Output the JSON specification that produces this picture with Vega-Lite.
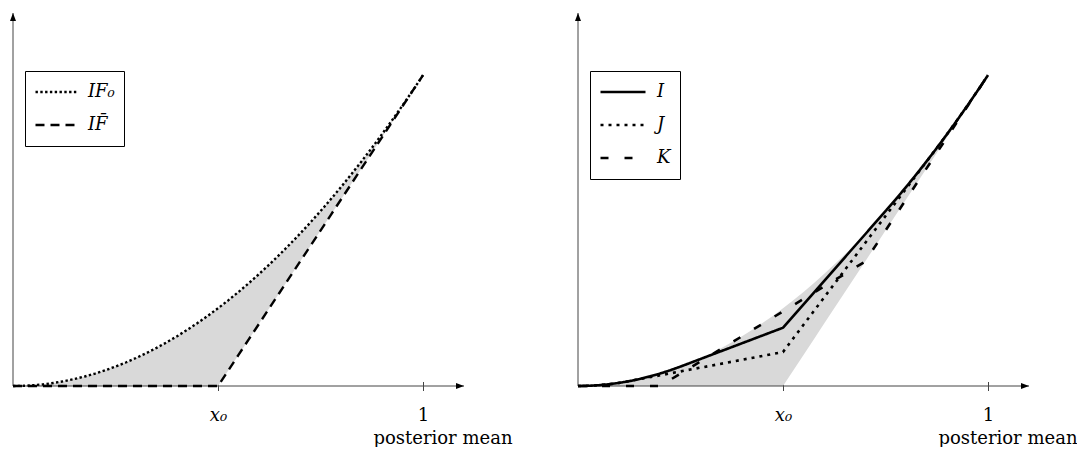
{
  "$schema": "https://vega.github.io/schema/vega-lite/v6.json",
  "background": "white",
  "padding": {"left": 8, "top": 12, "right": 0, "bottom": 0},
  "spacing": 114,
  "bounds": "flush",
  "config": {"view": {"stroke": null}, "font": "DejaVu Serif"},
  "resolve": {"scale": {"strokeDash": "independent", "x": "independent", "y": "independent"}, "legend": {"strokeDash": "independent"}},
  "datasets": {
    "shade": [
      {"x": 0, "lo": 0, "hi": 0},
      {"x": 0.025, "lo": 0, "hi": 0.0006},
      {"x": 0.05, "lo": 0, "hi": 0.0025},
      {"x": 0.075, "lo": 0, "hi": 0.0056},
      {"x": 0.1, "lo": 0, "hi": 0.01},
      {"x": 0.125, "lo": 0, "hi": 0.0156},
      {"x": 0.15, "lo": 0, "hi": 0.0225},
      {"x": 0.175, "lo": 0, "hi": 0.0306},
      {"x": 0.2, "lo": 0, "hi": 0.04},
      {"x": 0.225, "lo": 0, "hi": 0.0506},
      {"x": 0.25, "lo": 0, "hi": 0.0625},
      {"x": 0.275, "lo": 0, "hi": 0.0756},
      {"x": 0.3, "lo": 0, "hi": 0.09},
      {"x": 0.325, "lo": 0, "hi": 0.1056},
      {"x": 0.35, "lo": 0, "hi": 0.1225},
      {"x": 0.375, "lo": 0, "hi": 0.1406},
      {"x": 0.4, "lo": 0, "hi": 0.16},
      {"x": 0.425, "lo": 0, "hi": 0.1806},
      {"x": 0.45, "lo": 0, "hi": 0.2025},
      {"x": 0.475, "lo": 0, "hi": 0.2256},
      {"x": 0.5, "lo": 0, "hi": 0.25},
      {"x": 0.525, "lo": 0.05, "hi": 0.2756},
      {"x": 0.55, "lo": 0.1, "hi": 0.3025},
      {"x": 0.575, "lo": 0.15, "hi": 0.3306},
      {"x": 0.6, "lo": 0.2, "hi": 0.36},
      {"x": 0.625, "lo": 0.25, "hi": 0.3906},
      {"x": 0.65, "lo": 0.3, "hi": 0.4225},
      {"x": 0.675, "lo": 0.35, "hi": 0.4556},
      {"x": 0.7, "lo": 0.4, "hi": 0.49},
      {"x": 0.725, "lo": 0.45, "hi": 0.5256},
      {"x": 0.75, "lo": 0.5, "hi": 0.5625},
      {"x": 0.775, "lo": 0.55, "hi": 0.6006},
      {"x": 0.8, "lo": 0.6, "hi": 0.64},
      {"x": 0.825, "lo": 0.65, "hi": 0.6806},
      {"x": 0.85, "lo": 0.7, "hi": 0.7225},
      {"x": 0.875, "lo": 0.75, "hi": 0.7656},
      {"x": 0.9, "lo": 0.8, "hi": 0.81},
      {"x": 0.925, "lo": 0.85, "hi": 0.8556},
      {"x": 0.95, "lo": 0.9, "hi": 0.9025},
      {"x": 0.975, "lo": 0.95, "hi": 0.9506},
      {"x": 1, "lo": 1, "hi": 1}
    ],
    "right": [
      {"f": "I", "x": 0, "y": 0},
      {"f": "I", "x": 0.025, "y": 0.0006},
      {"f": "I", "x": 0.05, "y": 0.0025},
      {"f": "I", "x": 0.075, "y": 0.0056},
      {"f": "I", "x": 0.1, "y": 0.01},
      {"f": "I", "x": 0.125, "y": 0.0156},
      {"f": "I", "x": 0.15, "y": 0.0225},
      {"f": "I", "x": 0.175, "y": 0.0306},
      {"f": "I", "x": 0.2, "y": 0.04},
      {"f": "I", "x": 0.225, "y": 0.0506},
      {"f": "I", "x": 0.25, "y": 0.0625},
      {"f": "I", "x": 0.5, "y": 0.1875},
      {"f": "I", "x": 0.75, "y": 0.5625},
      {"f": "I", "x": 0.775, "y": 0.6006},
      {"f": "I", "x": 0.8, "y": 0.64},
      {"f": "I", "x": 0.825, "y": 0.6806},
      {"f": "I", "x": 0.85, "y": 0.7225},
      {"f": "I", "x": 0.875, "y": 0.7656},
      {"f": "I", "x": 0.9, "y": 0.81},
      {"f": "I", "x": 0.925, "y": 0.8556},
      {"f": "I", "x": 0.95, "y": 0.9025},
      {"f": "I", "x": 0.975, "y": 0.9506},
      {"f": "I", "x": 1, "y": 1},
      {"f": "J", "x": 0, "y": 0},
      {"f": "J", "x": 0.025, "y": 0.0006},
      {"f": "J", "x": 0.05, "y": 0.0025},
      {"f": "J", "x": 0.075, "y": 0.0056},
      {"f": "J", "x": 0.1, "y": 0.01},
      {"f": "J", "x": 0.125, "y": 0.0156},
      {"f": "J", "x": 0.5, "y": 0.1094},
      {"f": "J", "x": 0.875, "y": 0.7656},
      {"f": "J", "x": 0.9, "y": 0.81},
      {"f": "J", "x": 0.925, "y": 0.8556},
      {"f": "J", "x": 0.95, "y": 0.9025},
      {"f": "J", "x": 0.975, "y": 0.9506},
      {"f": "J", "x": 1, "y": 1},
      {"f": "K", "x": 0, "y": 0},
      {"f": "K", "x": 0.2, "y": 0},
      {"f": "K", "x": 0.7, "y": 0.4},
      {"f": "K", "x": 1, "y": 1}
    ]
  },
  "hconcat": [
    {
      "width": 451,
      "height": 373,
      "layer": [
        {
          "data": {"name": "shade"},
          "mark": {"type": "area", "color": "#d9d9d9", "opacity": 1},
          "encoding": {
            "x": {"field": "x", "type": "quantitative", "scale": {"domain": [0, 1.1], "nice": false, "zero": false},
              "axis": {"values": [0.5, 1], "domain": false, "grid": false, "tickSize": 9, "offset": -4.5, "tickColor": "#444", "tickWidth": 1,
                "labelExpr": "datum.value == 1 ? '1' : 'x\u2080'", "labelFont": "DejaVu Serif", "labelFontSize": 18, "labelColor": "black",
                "labelBaseline": "alphabetic", "labelPadding": 30, "labelFlush": false,
                "labelFontStyle": {"condition": {"test": "datum.value == 1", "value": "normal"}, "value": "italic"},
                "title": "posterior mean", "titleX": 499, "titleY": 61.5, "titleAlign": "right", "titleBaseline": "alphabetic",
                "titleFont": "DejaVu Serif", "titleFontSize": 18, "titleFontWeight": "normal", "titleColor": "black"}},
            "y": {"field": "hi", "type": "quantitative", "scale": {"domain": [0, 1.2], "nice": false, "zero": false}, "axis": null},
            "y2": {"field": "lo"}
          }
        },
        {
          "data": {"values": [{}]},
          "mark": {"type": "rule", "color": "#444", "strokeWidth": 1},
          "encoding": {"x": {"datum": 0, "type": "quantitative"}, "x2": {"datum": 1.1}, "y": {"datum": 0, "type": "quantitative", "axis": null}}
        },
        {
          "data": {"values": [{}]},
          "mark": {"type": "rule", "color": "#444", "strokeWidth": 1},
          "encoding": {"x": {"datum": 0, "type": "quantitative"}, "y": {"datum": 0, "type": "quantitative", "axis": null}, "y2": {"datum": 1.2}}
        },
        {
          "data": {"name": "shade"},
          "transform": [{"fold": ["hi", "lo"], "as": ["key", "val"]}],
          "mark": {"type": "line", "color": "black", "strokeWidth": 2.4},
          "encoding": {
            "x": {"field": "x", "type": "quantitative"},
            "y": {"field": "val", "type": "quantitative", "axis": null},
            "strokeDash": {"field": "key", "type": "nominal",
              "scale": {"domain": ["hi", "lo"], "range": [[2.4, 2.4], [9, 6]]},
              "legend": {"orient": "none", "legendX": 12, "legendY": 58, "title": null, "symbolType": "stroke", "symbolSize": 1850,
                "symbolStrokeWidth": 2.4, "symbolStrokeColor": "black", "strokeColor": "black", "fillColor": "white", "padding": 9,
                "clipHeight": 24, "rowPadding": 9, "labelFont": "DejaVu Serif", "labelFontSize": 18, "labelFontStyle": "italic", "labelColor": "black", "labelOffset": 8,
                "labelExpr": "datum.label == 'hi' ? 'IF\u2080\u2002' : 'IF\u0304\u2002'"}
            }
          }
        },
        {
          "data": {"values": [{}]},
          "mark": {"type": "point", "shape": "M0,0L-2,-0.75L-2,0.75Z", "filled": true, "size": 64, "color": "black", "opacity": 1},
          "encoding": {"x": {"datum": 1.1, "type": "quantitative"}, "y": {"datum": 0, "type": "quantitative", "axis": null}}
        },
        {
          "data": {"values": [{}]},
          "mark": {"type": "point", "shape": "M0,0L-0.75,2L0.75,2Z", "filled": true, "size": 64, "color": "black", "opacity": 1},
          "encoding": {"x": {"datum": 0, "type": "quantitative"}, "y": {"datum": 1.2, "type": "quantitative", "axis": null}}
        }
      ]
    },
    {
      "width": 451,
      "height": 373,
      "layer": [
        {
          "data": {"name": "shade"},
          "mark": {"type": "area", "color": "#d9d9d9", "opacity": 1},
          "encoding": {
            "x": {"field": "x", "type": "quantitative", "scale": {"domain": [0, 1.1], "nice": false, "zero": false},
              "axis": {"values": [0.5, 1], "domain": false, "grid": false, "tickSize": 9, "offset": -4.5, "tickColor": "#444", "tickWidth": 1,
                "labelExpr": "datum.value == 1 ? '1' : 'x\u2080'", "labelFont": "DejaVu Serif", "labelFontSize": 18, "labelColor": "black",
                "labelBaseline": "alphabetic", "labelPadding": 30, "labelFlush": false,
                "labelFontStyle": {"condition": {"test": "datum.value == 1", "value": "normal"}, "value": "italic"},
                "title": "posterior mean", "titleX": 499, "titleY": 61.5, "titleAlign": "right", "titleBaseline": "alphabetic",
                "titleFont": "DejaVu Serif", "titleFontSize": 18, "titleFontWeight": "normal", "titleColor": "black"}},
            "y": {"field": "hi", "type": "quantitative", "scale": {"domain": [0, 1.2], "nice": false, "zero": false}, "axis": null},
            "y2": {"field": "lo"}
          }
        },
        {
          "data": {"values": [{}]},
          "mark": {"type": "rule", "color": "#444", "strokeWidth": 1},
          "encoding": {"x": {"datum": 0, "type": "quantitative"}, "x2": {"datum": 1.1}, "y": {"datum": 0, "type": "quantitative", "axis": null}}
        },
        {
          "data": {"values": [{}]},
          "mark": {"type": "rule", "color": "#444", "strokeWidth": 1},
          "encoding": {"x": {"datum": 0, "type": "quantitative"}, "y": {"datum": 0, "type": "quantitative", "axis": null}, "y2": {"datum": 1.2}}
        },
        {
          "data": {"name": "right"},
          "mark": {"type": "line", "color": "black", "strokeWidth": 2.6},
          "encoding": {
            "x": {"field": "x", "type": "quantitative"},
            "y": {"field": "y", "type": "quantitative", "axis": null},
            "strokeDash": {"field": "f", "type": "nominal",
              "scale": {"domain": ["I", "J", "K"], "range": [[1, 0], [3, 5], [8, 16]]},
              "legend": {"orient": "none", "legendX": 12, "legendY": 58, "title": null, "symbolType": "stroke", "symbolSize": 2025,
                "symbolStrokeWidth": 2.6, "symbolStrokeColor": "black", "strokeColor": "black", "fillColor": "white", "padding": 9,
                "clipHeight": 24, "rowPadding": 9, "labelFont": "DejaVu Serif", "labelFontSize": 18, "labelFontStyle": "italic", "labelColor": "black", "labelOffset": 10,
                "labelExpr": "datum.label + '\u2002'"}
            }
          }
        },
        {
          "data": {"values": [{}]},
          "mark": {"type": "point", "shape": "M0,0L-2,-0.75L-2,0.75Z", "filled": true, "size": 64, "color": "black", "opacity": 1},
          "encoding": {"x": {"datum": 1.1, "type": "quantitative"}, "y": {"datum": 0, "type": "quantitative", "axis": null}}
        },
        {
          "data": {"values": [{}]},
          "mark": {"type": "point", "shape": "M0,0L-0.75,2L0.75,2Z", "filled": true, "size": 64, "color": "black", "opacity": 1},
          "encoding": {"x": {"datum": 0, "type": "quantitative"}, "y": {"datum": 1.2, "type": "quantitative", "axis": null}}
        }
      ]
    }
  ]
}
